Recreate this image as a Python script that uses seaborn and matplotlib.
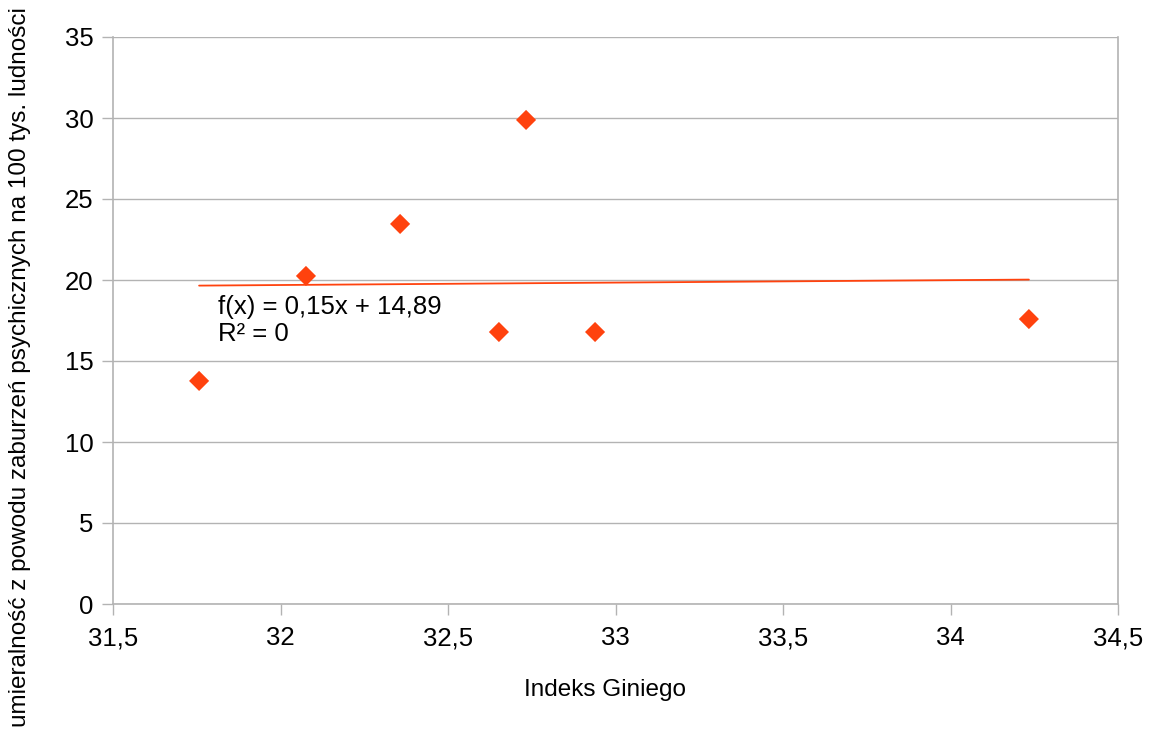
import numpy as np
import pandas as pd
import seaborn as sns
import matplotlib
matplotlib.use("Agg")
import matplotlib.pyplot as plt

# data
gini = [31.757, 32.076, 32.357, 32.733, 32.652, 32.939, 34.234]
mortality = [13.77, 20.25, 23.46, 29.88, 16.79, 16.79, 17.59]
slope = 0.15
intercept = 14.89
equation_text = "f(x) = 0,15x + 14,89\nR² = 0"

df = pd.DataFrame({"gini": gini, "mortality": mortality})

sns.set_style("white")
plt.rcParams["font.family"] = ["Liberation Sans", "DejaVu Sans"]
plt.rcParams["text.color"] = "black"
plt.rcParams["axes.labelcolor"] = "black"
plt.rcParams["xtick.labelcolor"] = "black"
plt.rcParams["ytick.labelcolor"] = "black"

orange = "#ff420e"
gray = "#b3b3b3"

fig = plt.figure(figsize=(11.49, 7.33), dpi=100)
ax = fig.add_axes([113 / 1149, 129 / 733, 1005 / 1149, 567 / 733])

# trend line
xs = np.array([min(gini), max(gini)])
ax.plot(xs, slope * xs + intercept, color=orange, linewidth=1.3, zorder=2)

sns.scatterplot(data=df, x="gini", y="mortality", marker="D", s=105,
                color=orange, edgecolor="none", ax=ax, zorder=3)

ax.text(31.812, 19.1, equation_text, fontsize=18.5, va="top", ha="left",
        linespacing=1.2, color="black")

ax.set_xlim(31.5, 34.5)
ax.set_ylim(0, 35)
xt = [31.5, 32, 32.5, 33, 33.5, 34, 34.5]
ax.set_xticks(xt)
ax.set_xticklabels([str(v).replace(".", ",") for v in xt])
ax.set_yticks(range(0, 36, 5))

ax.yaxis.grid(True, color=gray, linewidth=1)
ax.xaxis.grid(False)
ax.set_axisbelow(True)
for side in ["left", "bottom", "right"]:
    ax.spines[side].set_color(gray)
    ax.spines[side].set_linewidth(1.2)
ax.spines["top"].set_visible(False)

ax.tick_params(axis="both", which="both", length=8, width=1, color=gray,
               labelsize=18.5, labelcolor="black", direction="out",
               left=True, bottom=True)
ax.tick_params(axis="x", pad=8)
ax.tick_params(axis="y", pad=6)

ax.set_xlabel("Indeks Giniego", fontsize=17.5, color="black")
ax.xaxis.set_label_coords(0.49, -0.132)
ax.set_ylabel("umieralność z powodu zaburzeń psychicznych na 100 tys. ludności",
              fontsize=17.5, color="black")
ax.yaxis.set_label_coords(-0.082, 0.418)

fig.savefig("out.png", dpi=100)
